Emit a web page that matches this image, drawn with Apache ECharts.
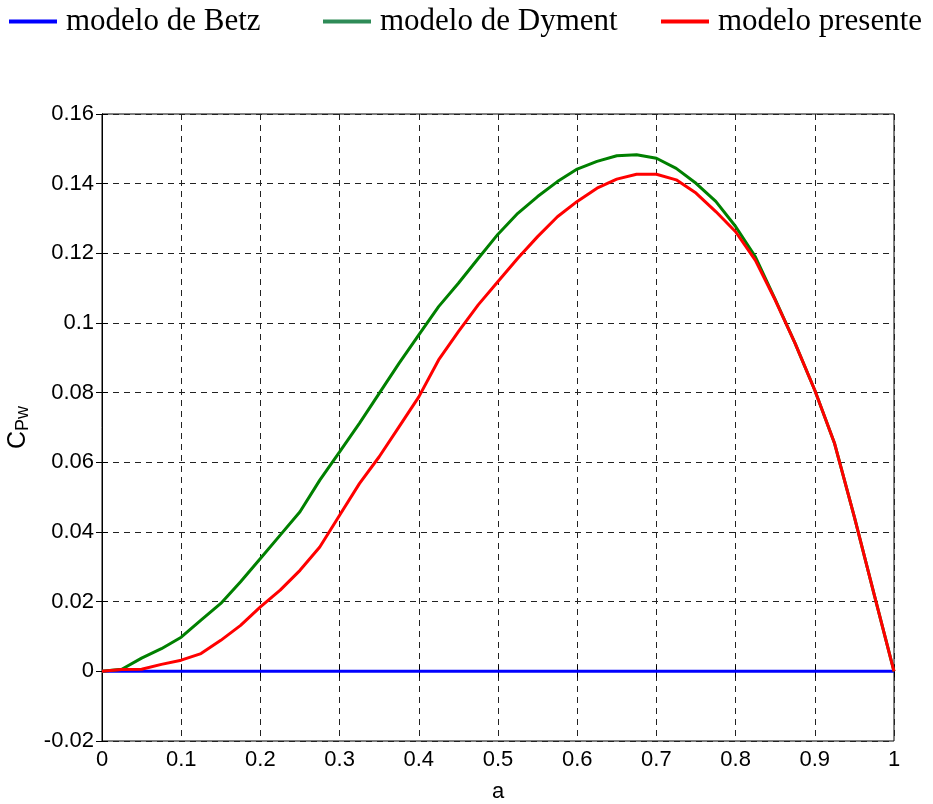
<!DOCTYPE html>
<html>
<head>
<meta charset="utf-8">
<script src="https://cdn.jsdelivr.net/npm/echarts@6/dist/echarts.min.js"></script>
<style>
  html, body { margin: 0; padding: 0; background: #fff; }
  #chart { width: 933px; height: 804px; }
</style>
</head>
<body>
<div id="chart"></div>
<script>
// datos (a en pasos de 0.025)
const A = [0, 0.025, 0.05, 0.075, 0.1, 0.125, 0.15, 0.175, 0.2, 0.225, 0.25, 0.275, 0.3, 0.325, 0.35, 0.375, 0.4,
  0.425, 0.45, 0.475, 0.5, 0.525, 0.55, 0.575, 0.6, 0.625, 0.65, 0.675, 0.7, 0.725, 0.75, 0.775, 0.8,
  0.825, 0.85, 0.875, 0.9, 0.925, 0.95, 0.975, 1];
const BETZ = A.map(() => 0);
const DYMENT = [0, 0.0006, 0.0038, 0.0065, 0.0098, 0.0147, 0.0195, 0.0257, 0.0324, 0.0391, 0.0458, 0.0549, 0.063,
  0.0712, 0.0798, 0.0884, 0.0966, 0.1047, 0.1114, 0.1185, 0.1255, 0.1315, 0.1363, 0.1406, 0.1442, 0.1464,
  0.148, 0.1483, 0.1473, 0.1444, 0.1401, 0.1349, 0.1277, 0.119, 0.1068, 0.0942, 0.0807, 0.0654, 0.0443, 0.022, 0];
const PRESENTE = [0, 0.0005, 0.0006, 0.002, 0.0032, 0.0051, 0.0089, 0.0132, 0.0185, 0.0233, 0.029, 0.0357, 0.0448,
  0.0539, 0.0616, 0.0702, 0.0788, 0.0894, 0.0975, 0.1052, 0.1119, 0.1186, 0.1248, 0.1305, 0.1349, 0.1387,
  0.1413, 0.1427, 0.1427, 0.1411, 0.1373, 0.132, 0.1262, 0.118, 0.1066, 0.0942, 0.0807, 0.0654, 0.0443, 0.022, 0];

const NAMES = ['modelo de Betz', 'modelo de Dyment', 'modelo presente'];
const LEGEND_LEFT = [9, 323, 661];
const LEGEND_COLORS = ['#0000ff', '#2e8b57', '#ff0000'];

const chart = echarts.init(document.getElementById('chart'), null, { renderer: 'canvas' });

const tickFont = { color: '#000', fontFamily: 'Liberation Sans', fontSize: 22 };
const dash = { color: '#222', width: 1, type: [6, 5] };
const fmt = v => String(parseFloat(v.toFixed(2)));

function pairs(ys) { return A.map((a, i) => [a, ys[i]]); }

function line(name, data, color) {
  return { type: 'line', name, data: pairs(data), smooth: false, showSymbol: false,
    lineStyle: { color, width: 3 }, itemStyle: { color }, animation: false };
}

const option = {
  backgroundColor: '#fff',
  animation: false,
  legend: NAMES.map((n, i) => ({
    left: LEGEND_LEFT[i], top: 6, padding: 0,
    data: [{ name: n, icon: 'rect', itemStyle: { color: LEGEND_COLORS[i] } }],
    itemWidth: 48, itemHeight: 4,
    textStyle: { fontFamily: 'Liberation Serif', fontSize: 31, color: '#000', padding: [0, 0, 0, 4] },
    selectedMode: false
  })),
  grid: { left: 102, right: 39, top: 114, bottom: 63, show: true, borderColor: '#000', borderWidth: 1,
    outerBoundsMode: 'none', containLabel: false },
  xAxis: [
    { type: 'value', min: 0, max: 1, interval: 0.1,
      name: 'a', nameLocation: 'middle', nameGap: 40, nameTextStyle: tickFont,
      axisLine: { lineStyle: { color: '#000' } },
      axisTick: { inside: true, length: 6, lineStyle: { color: '#000' } },
      axisLabel: Object.assign({ margin: 8, formatter: fmt }, tickFont),
      splitLine: { show: true, lineStyle: dash } },
    { type: 'value', min: 0, max: 1, interval: 0.1, position: 'top',
      axisLine: { lineStyle: { color: '#000' } },
      axisTick: { inside: true, length: 6, lineStyle: { color: '#000' } },
      axisLabel: { show: false }, splitLine: { show: false } }
  ],
  yAxis: [
    { type: 'value', min: -0.02, max: 0.16, interval: 0.02,
      name: '{c|C}{s|Pw}', nameLocation: 'middle', nameGap: 70, nameRotate: 90,
      nameTextStyle: { rich: {
        c: { fontFamily: 'Liberation Sans', fontSize: 25, color: '#000' },
        s: { fontFamily: 'Liberation Sans', fontSize: 18, color: '#000', verticalAlign: 'bottom', padding: [10, 0, 0, 0] }
      } },
      axisLine: { lineStyle: { color: '#000' } },
      axisTick: { inside: true, length: 6, lineStyle: { color: '#000' } },
      axisLabel: Object.assign({ margin: 8, formatter: fmt }, tickFont),
      splitLine: { show: true, lineStyle: dash } },
    { type: 'value', min: -0.02, max: 0.16, interval: 0.02, position: 'right',
      axisLine: { lineStyle: { color: '#000' } },
      axisTick: { inside: true, length: 6, lineStyle: { color: '#000' } },
      axisLabel: { show: false }, splitLine: { show: false } }
  ],
  series: [
    line(NAMES[0], BETZ, '#0000ff'),
    line(NAMES[1], DYMENT, '#008000'),
    line(NAMES[2], PRESENTE, '#ff0000')
  ]
};

chart.setOption(option, true);
</script>
</body>
</html>
